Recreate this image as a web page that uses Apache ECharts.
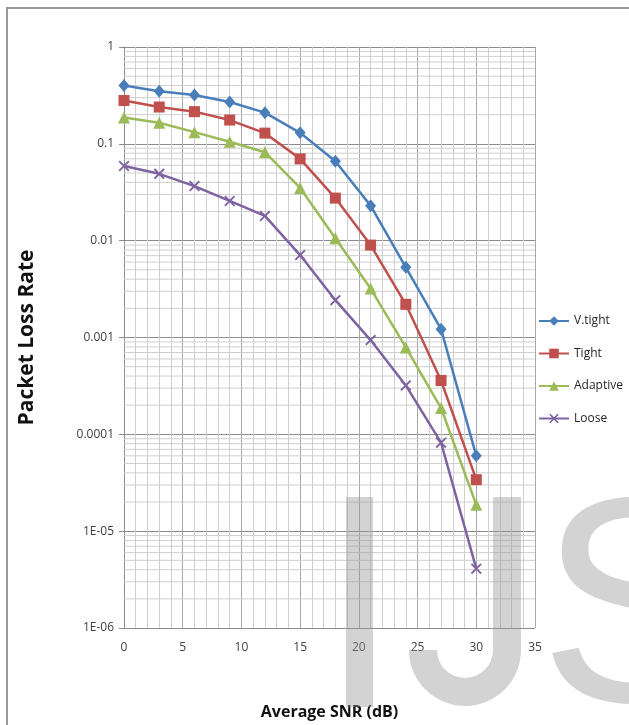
<!DOCTYPE html>
<html>
<head>
<meta charset="utf-8">
<script src="https://cdn.jsdelivr.net/npm/echarts@6/dist/echarts.min.js"></script>
<style>
html,body{margin:0;padding:0;background:#fff;}
#chart{width:629px;height:725px;}
</style>
</head>
<body>
<div id="chart"></div>
<script>
// ---- data ----
var snr = [0, 3, 6, 9, 12, 15, 18, 21, 24, 27, 30];
var vTight   = [0.40, 0.35, 0.32, 0.27, 0.21, 0.13, 0.066, 0.023, 0.0053, 0.00122, 0.00006];
var tight    = [0.28, 0.24, 0.215, 0.176, 0.129, 0.070, 0.0275, 0.009, 0.0022, 0.00036, 0.000034];
var adaptive = [0.187, 0.165, 0.132, 0.105, 0.082, 0.035, 0.0106, 0.0032, 0.00079, 0.000187, 0.0000187];
var loose    = [0.059, 0.049, 0.0366, 0.0257, 0.018, 0.0071, 0.00243, 0.00094, 0.00032, 0.000082, 0.0000041];
var seriesNames = ['V.tight', 'Tight', 'Adaptive', 'Loose'];
var xTicks = [0, 5, 10, 15, 20, 25, 30, 35];
var yTickLabels = {'-6': '1E-06', '-5': '1E-05', '-4': '0.0001', '-3': '0.001', '-2': '0.01', '-1': '0.1', '0': '1'};
var minorMultipliers = [2, 3, 4, 5, 6, 7, 8, 9];
var decades = [-6, -5, -4, -3, -2, -1];

function pairs(ys) { return snr.map(function (x, i) { return [x, ys[i]]; }); }

var minorValues = [];
decades.forEach(function (d) {
  minorMultipliers.forEach(function (m) { minorValues.push([m * Math.pow(10, d)]); });
});

var crossPath = 'path://M0,1.2L1.2,0L5,3.8L8.8,0L10,1.2L6.2,5L10,8.8L8.8,10L5,6.2L1.2,10L0,8.8L3.8,5Z';
var colors = ['#4A7EBB', '#C0504D', '#9BBB59', '#7F63A1'];
var symbols = ['diamond', 'rect', 'triangle', crossPath];
var sizes = [[11, 13], 11, 12, 11];
var values = [vTight, tight, adaptive, loose];

var series = [{
  name: '_minor', type: 'custom', silent: true, z: 1, animation: false,
  data: minorValues,
  renderItem: function (params, api) {
    var v = api.value(0);
    var p1 = api.coord([0, v]);
    var p2 = api.coord([35, v]);
    return { type: 'line', shape: { x1: p1[0], y1: p1[1], x2: p2[0], y2: p2[1] },
      style: { stroke: '#cfcfcf', lineWidth: 1 } };
  },
  encode: { y: 0 }
}];
seriesNames.forEach(function (n, i) {
  series.push({
    name: n, type: 'line', data: pairs(values[i]), z: 5,
    symbol: symbols[i], symbolSize: sizes[i], showSymbol: true,
    lineStyle: { color: colors[i], width: 2.5 },
    itemStyle: { color: colors[i] },
    animation: false
  });
});

var wmFill = 'rgba(150,150,150,0.42)';
var chart = echarts.init(document.getElementById('chart'), null, { renderer: 'canvas' });
chart.setOption({
  backgroundColor: '#fff',
  animation: false,
  textStyle: { fontFamily: 'Liberation Sans Narrow, Open Sans, sans-serif' },
  grid: { left: 124, top: 47, right: 94, bottom: 97, containLabel: false },
  legend: {
    data: seriesNames, orient: 'vertical', left: 533, top: 310,
    itemWidth: 30, itemHeight: 12, itemGap: 20.5,
    textStyle: { fontSize: 12, color: '#262626', fontFamily: 'Liberation Sans Narrow, Open Sans, sans-serif' }
  },
  xAxis: {
    type: 'value', min: 0, max: 35, interval: 5,
    name: 'Average SNR (dB)', nameLocation: 'middle', nameGap: 76,
    nameTextStyle: { fontSize: 16, fontWeight: 'bold', color: '#111', fontFamily: 'Open Sans, sans-serif' },
    axisLine: { show: false },
    axisTick: { show: false },
    axisLabel: { margin: 14, fontSize: 12, color: '#404040',
      formatter: function (v) { return xTicks.indexOf(v) >= 0 ? String(v) : ''; } },
    splitLine: { show: true, lineStyle: { color: '#a8a8a8', width: 1 } },
    minorTick: { show: false, splitNumber: 5 },
    minorSplitLine: { show: true, lineStyle: { color: '#cfcfcf', width: 1 } }
  },
  yAxis: {
    type: 'log', logBase: 10, min: 1e-6, max: 1,
    name: 'Packet Loss Rate', nameLocation: 'middle', nameGap: 86,
    nameTextStyle: { fontSize: 21, fontWeight: 'bold', color: '#111', fontFamily: 'Open Sans, sans-serif' },
    axisLine: { show: true, lineStyle: { color: '#8c8c8c', width: 1 } },
    axisTick: { show: true, inside: false, length: 5, lineStyle: { color: '#8c8c8c' } },
    axisLabel: { margin: 10, fontSize: 12, color: '#404040',
      formatter: function (v) {
        var e = Math.round(Math.log10(v));
        return yTickLabels[String(e)] || '';
      } },
    splitLine: { show: true, lineStyle: { color: '#8c8c8c', width: 1 } }
  },
  series: series,
  graphic: [
    { type: 'rect', z: 0, silent: true, shape: { x: 7, y: 8, width: 660, height: 760 },
      style: { fill: 'none', stroke: '#9a9a9a', lineWidth: 2 } },
    { type: 'rect', z: 100, silent: true, shape: { x: 346, y: 497, width: 27, height: 210 },
      style: { fill: wmFill } },
    { type: 'rect', z: 100, silent: true, shape: { x: 493, y: 497, width: 28, height: 153 },
      style: { fill: wmFill } },
    { type: 'sector', z: 100, silent: true,
      shape: { cx: 465, cy: 650, r0: 28, r: 56, startAngle: 0, endAngle: Math.PI, clockwise: true },
      style: { fill: wmFill } },
    { type: 'text', z: 100, silent: true, left: 539, top: 474,
      style: { text: 'S', font: '293px "Liberation Sans", Arial, sans-serif', fill: wmFill } }
  ]
});
</script>
</body>
</html>
